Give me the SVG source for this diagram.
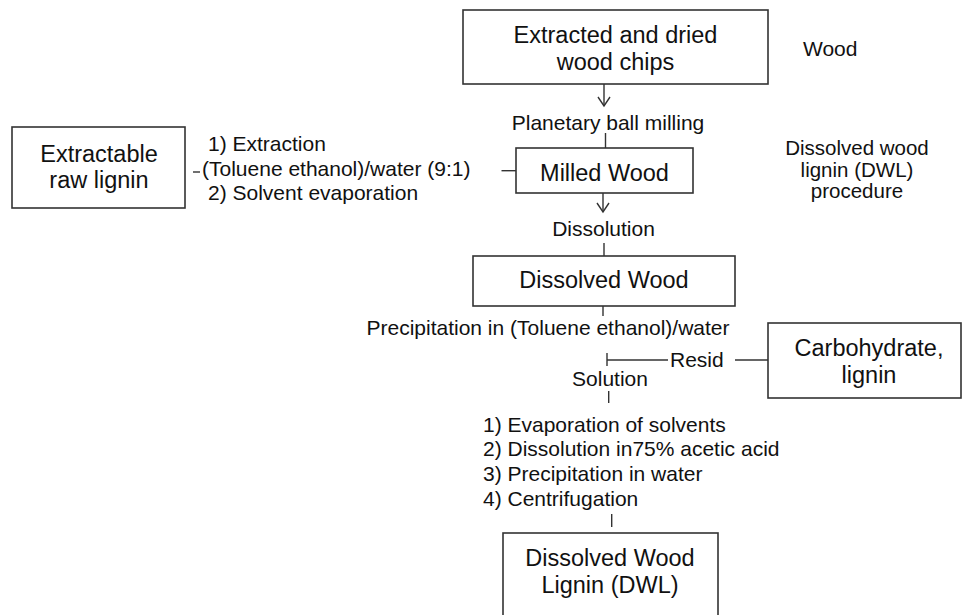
<svg xmlns="http://www.w3.org/2000/svg" width="962" height="615" viewBox="0 0 962 615">
<defs>
<style>
.box{fill:#fff;stroke:#333;stroke-width:1.6}
.ln{fill:none;stroke:#333;stroke-width:1.4}
.big{font-family:"Liberation Sans",Arial,sans-serif;font-size:23.5px;fill:#111}
.sm{font-family:"Liberation Sans",Arial,sans-serif;font-size:21px;fill:#111}
.c{text-anchor:middle}
</style>
<marker id="arr" viewBox="-10 -8 12 16" refX="0" refY="0" markerWidth="12" markerHeight="16" markerUnits="userSpaceOnUse" orient="auto" overflow="visible">
<path d="M-9,-6 L0,0 L-9,6" fill="none" stroke="#333" stroke-width="1.4"/>
</marker>
</defs>
<rect width="962" height="615" fill="#fff"/>

<g id="connectors">
<line class="ln" x1="604" y1="84" x2="604" y2="106" marker-end="url(#arr)"/>
<line class="ln" x1="605.5" y1="133" x2="605.5" y2="148"/>
<line class="ln" x1="603" y1="193" x2="603" y2="212" marker-end="url(#arr)"/>
<line class="ln" x1="604" y1="243" x2="604" y2="256"/>
<line class="ln" x1="603" y1="306" x2="603" y2="316"/>
<line class="ln" x1="607" y1="353" x2="607" y2="366"/>
<line class="ln" x1="607" y1="360" x2="668" y2="360"/>
<line class="ln" x1="735" y1="360" x2="768" y2="360"/>
<line class="ln" x1="608.7" y1="391" x2="608.7" y2="403"/>
<line class="ln" x1="611.7" y1="514" x2="611.7" y2="527"/>
<line class="ln" x1="193" y1="172" x2="200" y2="172"/>
<line class="ln" x1="501.5" y1="170.7" x2="516" y2="170.7"/>
</g>

<g id="n-chips">
<rect class="box" x="463" y="10" width="305" height="74"/>
<text class="big c" x="615.5" y="43">Extracted and dried</text>
<text class="big c" x="615.5" y="70">wood chips</text>
</g>

<g id="lbl-wood"><text class="sm" x="803" y="56">Wood</text></g>

<g id="lbl-milling"><text class="sm c" x="608" y="130">Planetary ball milling</text></g>

<g id="n-milled">
<rect class="box" x="516" y="148" width="177" height="45"/>
<text class="big c" x="604.5" y="181">Milled Wood</text>
</g>

<g id="n-extractable">
<rect class="box" x="12" y="127" width="173" height="81"/>
<text class="big c" x="99" y="162">Extractable</text>
<text class="big c" x="99" y="188">raw lignin</text>
</g>

<g id="lbl-extraction">
<text class="sm" x="208" y="151">1) Extraction</text>
<text class="sm" x="202" y="176">(Toluene ethanol)/water (9:1)</text>
<text class="sm" x="208" y="199.5">2) Solvent evaporation</text>
</g>

<g id="lbl-dwl" style="font-size:20.5px">
<text class="sm c" x="857" y="155" style="font-size:20.5px">Dissolved wood</text>
<text class="sm c" x="857" y="176.5" style="font-size:20.5px">lignin (DWL)</text>
<text class="sm c" x="857" y="198" style="font-size:20.5px">procedure</text>
</g>

<g id="lbl-dissolution"><text class="sm c" x="603.5" y="236">Dissolution</text></g>

<g id="n-dissolved">
<rect class="box" x="473" y="256" width="262" height="50"/>
<text class="big c" x="604" y="288">Dissolved Wood</text>
</g>

<g id="lbl-precip"><text class="sm c" x="548" y="335">Precipitation in (Toluene ethanol)/water</text></g>

<g id="lbl-resid"><text class="sm" x="670" y="367">Resid</text></g>

<g id="n-carb">
<rect class="box" x="768" y="323" width="193" height="75"/>
<text class="big c" x="869" y="356">Carbohydrate,</text>
<text class="big c" x="869" y="382.5">lignin</text>
</g>

<g id="lbl-solution"><text class="sm c" x="610" y="386">Solution</text></g>

<g id="lbl-steps">
<text class="sm" x="483" y="431.5">1) Evaporation of solvents</text>
<text class="sm" x="483" y="456">2) Dissolution in75% acetic acid</text>
<text class="sm" x="483" y="481">3) Precipitation in water</text>
<text class="sm" x="483" y="505.5">4) Centrifugation</text>
</g>

<g id="n-dwl">
<rect class="box" x="503" y="533" width="215" height="100"/>
<text class="big c" x="610" y="566">Dissolved Wood</text>
<text class="big c" x="610" y="593">Lignin (DWL)</text>
</g>
</svg>
